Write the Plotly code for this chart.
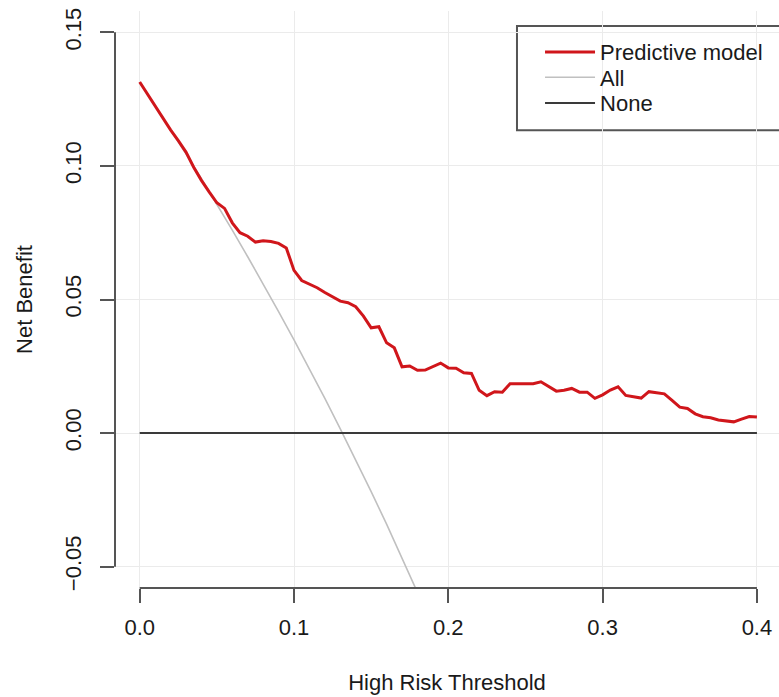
import plotly.graph_objects as go

# ---- data ----
thresholds = [0.000, 0.005, 0.010, 0.015, 0.020, 0.025, 0.030, 0.035, 0.040, 0.045,
              0.050, 0.055, 0.060, 0.065, 0.070, 0.075, 0.080, 0.085, 0.090, 0.095,
              0.100, 0.105, 0.110, 0.115, 0.120, 0.125, 0.130, 0.135, 0.140, 0.145,
              0.150, 0.155, 0.160, 0.165, 0.170, 0.175, 0.180, 0.185, 0.190, 0.195,
              0.200, 0.205, 0.210, 0.215, 0.220, 0.225, 0.230, 0.235, 0.240, 0.245,
              0.250, 0.255, 0.260, 0.265, 0.270, 0.275, 0.280, 0.285, 0.290, 0.295,
              0.300, 0.305, 0.310, 0.315, 0.320, 0.325, 0.330, 0.335, 0.340, 0.345,
              0.350, 0.355, 0.360, 0.365, 0.370, 0.375, 0.380, 0.385, 0.390, 0.395,
              0.400]

model_nb = [0.1314, 0.1268, 0.1226, 0.1176, 0.1135, 0.1095, 0.1052, 0.0995, 0.0946, 0.0903,
            0.0862, 0.0841, 0.0787, 0.0750, 0.0737, 0.0715, 0.0720, 0.0717, 0.0710, 0.0693,
            0.0609, 0.0571, 0.0558, 0.0544, 0.0526, 0.0509, 0.0494, 0.0488, 0.0473, 0.0438,
            0.0394, 0.0398, 0.0338, 0.0319, 0.0248, 0.0251, 0.0235, 0.0236, 0.0248, 0.0262,
            0.0244, 0.0243, 0.0226, 0.0223, 0.0160, 0.0140, 0.0155, 0.0153, 0.0185, 0.0185,
            0.0185, 0.0185, 0.0192, 0.0173, 0.0157, 0.0160, 0.0167, 0.0153, 0.0153, 0.0130,
            0.0143, 0.0161, 0.0173, 0.0141, 0.0135, 0.0131, 0.0155, 0.0152, 0.0147, 0.0122,
            0.0097, 0.0092, 0.0072, 0.0061, 0.0057, 0.0049, 0.0045, 0.0042, 0.0052, 0.0062,
            0.0060]

all_thresholds = [0.00, 0.01, 0.02, 0.03, 0.04, 0.05, 0.06, 0.07, 0.08, 0.09, 0.10,
                  0.11, 0.12, 0.13, 0.14, 0.15, 0.16, 0.17, 0.18, 0.19, 0.20]
all_nb = [0.1314, 0.1226, 0.1137, 0.1045, 0.0952, 0.0857, 0.0760, 0.0660, 0.0559, 0.0455,
          0.0349, 0.0240, 0.0130, 0.0016, -0.0100, -0.0219, -0.0341, -0.0465, -0.0593,
          -0.0724, -0.0858]

none_thresholds = [0.0, 0.4]
none_nb = [0.0, 0.0]

x_tickvals = [0.0, 0.1, 0.2, 0.3, 0.4]
x_ticktext = ["0.0", "0.1", "0.2", "0.3", "0.4"]
y_tickvals = [-0.05, 0.0, 0.05, 0.10, 0.15]
y_ticktext = ["\u22120.05", "0.00", "0.05", "0.10", "0.15"]

FONT = "Liberation Sans, Arial, Helvetica, sans-serif"
AXIS_COL = "#555555"
TEXT_COL = "#1a1a1a"

fig = go.Figure()
fig.add_trace(go.Scatter(x=all_thresholds, y=all_nb, mode="lines", name="All",
                         line=dict(color="#c0c0c0", width=1.6), legend="legend2"))
fig.add_trace(go.Scatter(x=none_thresholds, y=none_nb, mode="lines", name="None",
                         line=dict(color="#3a3a3a", width=2), legend="legend3"))
fig.add_trace(go.Scatter(x=thresholds, y=model_nb, mode="lines", name="Predictive model",
                         line=dict(color="#d0161b", width=3), legend="legend"))

legend_common = dict(x=0.6401, xanchor="left", yanchor="top",
                     bgcolor="rgba(0,0,0,0)", borderwidth=0,
                     font=dict(family=FONT, size=22, color=TEXT_COL),
                     itemwidth=50)

fig.update_layout(
    width=779, height=697,
    margin=dict(l=115, r=0, t=11, b=109),
    paper_bgcolor="white", plot_bgcolor="white",
    font=dict(family=FONT, size=22, color=TEXT_COL),
    showlegend=True,
    legend=dict(y=0.9652, **legend_common),
    legend2=dict(y=0.9213, **legend_common),
    legend3=dict(y=0.8768, **legend_common),
    xaxis=dict(range=[-0.016, 0.4143], tickvals=x_tickvals, ticktext=x_ticktext,
               ticks="outside", ticklen=14, tickwidth=2, tickcolor=AXIS_COL,
               showgrid=True, gridcolor="#ebebeb", gridwidth=1,
               zeroline=False, showline=False, ticklabelstandoff=6,
               title=dict(text="High Risk Threshold", standoff=35,
                          font=dict(family=FONT, size=22, color=TEXT_COL))),
    yaxis=dict(range=[-0.058, 0.158], tickvals=y_tickvals, ticktext=y_ticktext,
               ticks="outside", ticklen=14, tickwidth=2, tickcolor=AXIS_COL,
               tickangle=-90,
               showgrid=True, gridcolor="#ebebeb", gridwidth=1,
               zeroline=False, showline=False, ticklabelstandoff=10,
               title=dict(text="Net Benefit", standoff=22,
                          font=dict(family=FONT, size=22, color=TEXT_COL))),
    shapes=[
        # R-style axis lines spanning only the tick range
        dict(type="line", xref="paper", yref="y", x0=0, x1=0, y0=-0.05, y1=0.15,
             line=dict(color=AXIS_COL, width=2), layer="above"),
        dict(type="line", xref="x", yref="paper", x0=0.0, x1=0.4, y0=0, y1=0,
             line=dict(color=AXIS_COL, width=2), layer="above"),
        # legend frame (extends past the right edge as in the reference)
        dict(type="rect", xref="paper", yref="paper", x0=0.6054, x1=1.05,
             y0=0.7932, y1=0.9738, line=dict(color=AXIS_COL, width=2),
             fillcolor="rgba(255,255,255,1)", layer="below"),
    ],
)

fig.write_html("out.html", config={"displayModeBar": False},
               post_script="document.body.style.margin='0';")
